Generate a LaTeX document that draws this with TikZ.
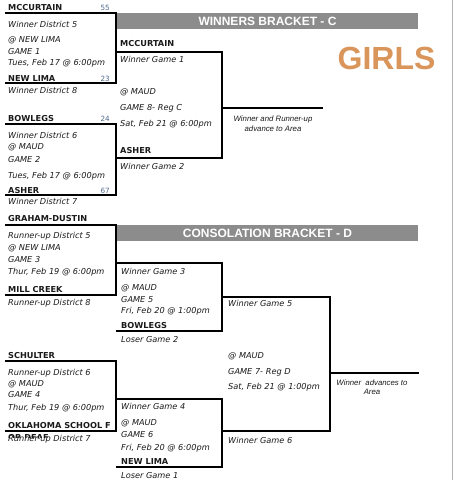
\documentclass[tikz,border=0pt]{standalone}
\usepackage{fontspec}
\setmainfont{DejaVu Sans}
\newfontfamily\arialfont{Liberation Sans}
\definecolor{txt}{HTML}{1A1A1A}
\definecolor{score}{HTML}{4F6A8E}
\definecolor{hdr}{HTML}{8C8C8C}
\definecolor{girlscol}{HTML}{DA955A}
\begin{document}
\begin{tikzpicture}[x=1pt,y=-1pt,
  team/.style={anchor=base west,inner sep=0pt,font=\fontsize{8.2}{10}\selectfont\bfseries,text=txt},
  info/.style={anchor=base west,inner sep=0pt,font=\fontsize{8.2}{10}\selectfont\itshape,text=txt},
  sc/.style={anchor=base east,inner sep=0pt,font=\fontsize{7.2}{8}\selectfont,text=score},
  note/.style={anchor=base,inner sep=0pt,font=\arialfont\fontsize{7.8}{10}\selectfont\itshape,text=txt,align=center},
  hdrtext/.style={inner sep=0pt,font=\arialfont\fontsize{12}{12}\selectfont\bfseries,text=white},
  brk/.style={line width=2.8pt,black,line join=miter,line cap=rect}
]
\useasboundingbox (0,0) rectangle (453,480);
\fill[white] (0,0) rectangle (453,480);
\draw[black!30,line width=1pt] (452,0) -- (452,480);

% headers
\fill[hdr] (117,13) rectangle (418,29);
\node[hdrtext] (hdrw) at (267.5,21.5) {WINNERS BRACKET - C};
\fill[hdr] (117,225) rectangle (418,241);
\node[hdrtext] (hdrc) at (267.5,233.5) {CONSOLATION BRACKET - D};
\node[anchor=base west,inner sep=0pt,font=\arialfont\fontsize{32}{33}\selectfont\bfseries,text=girlscol] (girls) at (337.5,69.5) {GIRLS};

% ---------- Winners bracket ----------
% Game 1
\draw[brk] (6,13) -- (116,13) -- (116,83) -- (6,83);
\node[team] (g1a) at (8,10) {MCCURTAIN};
\node[sc] (s55) at (110,10) {55};
\node[info] (g1i1) at (8,27) {Winner District 5};
\node[info] (g1i2) at (8,42) {@ NEW LIMA};
\node[info] (g1i3) at (8,54) {GAME 1};
\node[info] (g1i4) at (8,65) {Tues, Feb 17 @ 6:00pm};
\node[team] (g1b) at (8,81) {NEW LIMA};
\node[sc] (s23) at (110,81) {23};
\node[info] (g1i5) at (8,93) {Winner District 8};

% Game 2
\draw[brk] (6,124) -- (116,124) -- (116,195) -- (6,195);
\node[team] (g2a) at (8,121) {BOWLEGS};
\node[sc] (s24) at (110,121) {24};
\node[info] (g2i1) at (8,138) {Winner District 6};
\node[info] (g2i2) at (8,149) {@ MAUD};
\node[info] (g2i3) at (8,162) {GAME 2};
\node[info] (g2i4) at (8,178) {Tues, Feb 17 @ 6:00pm};
\node[team] (g2b) at (8,193) {ASHER};
\node[sc] (s67) at (110,193) {67};
\node[info] (g2i5) at (8,204) {Winner District 7};

% Game 8
\draw[brk] (117,52) -- (222,52) -- (222,158) -- (117,158);
\draw[brk] (222,108) -- (322,108);
\node[team] (g8a) at (120,46) {MCCURTAIN};
\node[info] (g8i1) at (120,62) {Winner Game 1};
\node[info] (g8i2) at (120,94) {@ MAUD};
\node[info] (g8i3) at (120,110) {GAME 8- Reg C};
\node[info] (g8i4) at (120,126) {Sat, Feb 21 @ 6:00pm};
\node[team] (g8b) at (120,153) {ASHER};
\node[info] (g8i5) at (120,169) {Winner Game 2};
\node[note] (adv1) at (273,121) {Winner and Runner-up};
\node[note] (adv2) at (273,131) {advance to Area};

% ---------- Consolation bracket ----------
% Game 3
\draw[brk] (6,225) -- (116,225) -- (116,295) -- (6,295);
\node[team] (g3a) at (8,221) {GRAHAM-DUSTIN};
\node[info] (g3i1) at (8,238) {Runner-up District 5};
\node[info] (g3i2) at (8,250) {@ NEW LIMA};
\node[info] (g3i3) at (8,262) {GAME 3};
\node[info] (g3i4) at (8,274) {Thur, Feb 19 @ 6:00pm};
\node[team] (g3b) at (8,292) {MILL CREEK};
\node[info] (g3i5) at (8,305) {Runner-up District 8};

% Game 4
\draw[brk] (6,361) -- (116,361) -- (116,431) -- (6,431);
\node[team] (g4a) at (8,358) {SCHULTER};
\node[info] (g4i1) at (8,375) {Runner-up District 6};
\node[info] (g4i2) at (8,386) {@ MAUD};
\node[info] (g4i3) at (8,397) {GAME 4};
\node[info] (g4i4) at (8,410) {Thur, Feb 19 @ 6:00pm};
\node[team] (g4b) at (8,428) {OKLAHOMA SCHOOL F};
\begin{scope}
  \clip (0,432.5) rectangle (120,437);
  \node[team] (g4c) at (8,440) {OR DEAF};
\end{scope}
\node[info] (g4i5) at (8,441) {Runner-up District 7};

% Game 5
\draw[brk] (117,263) -- (222,263) -- (222,331) -- (117,331);
\node[info] (g5i1) at (121,274) {Winner Game 3};
\node[info] (g5i2) at (121,290) {@ MAUD};
\node[info] (g5i3) at (121,302) {GAME 5};
\node[info] (g5i4) at (121,313) {Fri, Feb 20 @ 1:00pm};
\node[team] (g5b) at (121,328) {BOWLEGS};
\node[info] (g5i5) at (121,342) {Loser Game 2};

% Game 6
\draw[brk] (117,399) -- (222,399) -- (222,467) -- (117,467);
\node[info] (g6i1) at (121,409) {Winner Game 4};
\node[info] (g6i2) at (121,425) {@ MAUD};
\node[info] (g6i3) at (121,437) {GAME 6};
\node[info] (g6i4) at (121,450) {Fri, Feb 20 @ 6:00pm};
\node[team] (g6b) at (121,464) {NEW LIMA};
\node[info] (g6i5) at (121,478) {Loser Game 1};

% Game 7
\draw[brk] (222,297) -- (330,297) -- (330,431) -- (222,431);
\draw[brk] (330,373) -- (418,373);
\node[info] (g7i1) at (228,306) {Winner Game 5};
\node[info] (g7i2) at (228,358) {@ MAUD};
\node[info] (g7i3) at (228,374) {GAME 7- Reg D};
\node[info] (g7i4) at (228,389) {Sat, Feb 21 @ 1:00pm};
\node[info] (g7i5) at (228,443) {Winner Game 6};
\node[note] (adv3) at (372,385) {Winner\ \ advances to};
\node[note] (adv4) at (372,394) {Area};
\end{tikzpicture}
\end{document}
